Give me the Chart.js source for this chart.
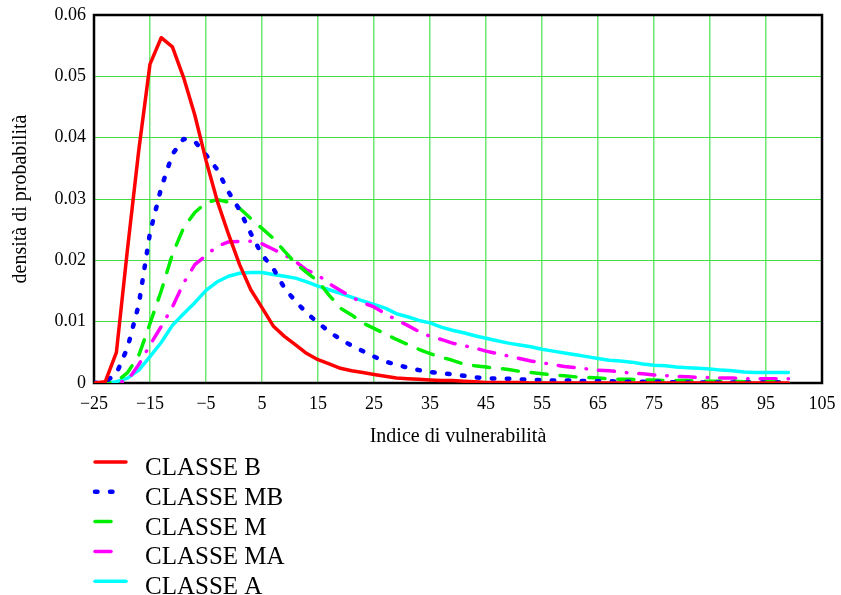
<!DOCTYPE html>
<html>
<head>
<meta charset="utf-8">
<script src="https://cdn.jsdelivr.net/npm/chart.js@4.4.1/dist/chart.umd.min.js"></script>
<style>
  html, body { margin: 0; padding: 0; background: #fff; }
  #wrap { width: 841px; height: 595px; }
</style>
</head>
<body>
<div id="wrap"><canvas id="grafica"></canvas></div>
<script>
// valori dell'indice (asse x)
const indice = [-25,-23,-21,-19,-17,-15,-13,-11,-9,-7,
  -5,-3,-1,1,3,5,7,9,11,13,
  15,17,19,21,23,25,27,29,31,33,
  35,37,39,41,43,45,47,49,51,53,
  55,57,59,61,63,65,67,69,71,73,
  75,77,79,81,83,85,87,89,91,93,
  95,97,99];

const classeB = [0,0.0002,0.005,0.022,0.038,0.052,0.0563,0.0548,0.0498,0.0437,
  0.0363,0.0297,0.0243,0.0193,0.0152,0.0123,0.0093,0.0076,0.0062,0.0048,
  0.0038,0.0031,0.0024,0.002,0.0017,0.0014,0.0011,0.0008,0.0007,0.0006,
  0.0005,0.0004,0.0004,0.0003,0.0002,0.0001,0.0001,0.0001,0.0001,0,
  0,0,0,0,0,0,0,0,0,0,
  0,0,0,0,0,0,0,0,0,0,
  0,0,0];

const classeMB = [0,0.0002,0.0015,0.0058,0.0128,0.0245,0.0318,0.0373,0.0398,0.0394,
  0.0372,0.0348,0.0312,0.0282,0.0244,0.0209,0.0187,0.0155,0.0133,0.0114,
  0.0098,0.0084,0.0071,0.0061,0.0052,0.0043,0.0035,0.003,0.0025,0.0021,
  0.0018,0.0016,0.0014,0.0012,0.0009,0.0008,0.0007,0.0007,0.0006,0.0005,
  0.0005,0.0004,0.0004,0.0004,0.0003,0.0003,0.0003,0.0002,0.0002,0.0002,
  0.0002,0.0002,0.0001,0.0001,0.0001,0.0001,0.0001,0.0001,0.0001,0.0001,
  0.0001,0.0001,0.0001];

const classeM = [0,0,0.0002,0.0017,0.0045,0.0097,0.015,0.021,0.0253,0.0278,
  0.0294,0.0299,0.0295,0.0285,0.0268,0.0252,0.0236,0.0215,0.0195,0.018,
  0.0166,0.0143,0.0122,0.0111,0.0098,0.0089,0.008,0.0071,0.0063,0.0055,
  0.0048,0.0042,0.0037,0.0031,0.0028,0.0026,0.0024,0.0022,0.0019,0.0017,
  0.0015,0.0013,0.0012,0.001,0.0009,0.0008,0.0007,0.0006,0.0006,0.0005,
  0.0005,0.0004,0.0004,0.0004,0.0003,0.0003,0.0003,0.0003,0.0002,0.0002,
  0.0002,0.0002,0.0002];

const classeMA = [0,0,0,0.0004,0.003,0.0062,0.0092,0.0124,0.0163,0.0193,
  0.0208,0.0223,0.023,0.0231,0.0231,0.0227,0.0218,0.0209,0.0198,0.0184,
  0.0176,0.0162,0.0151,0.014,0.0131,0.0124,0.0113,0.0103,0.0094,0.0084,
  0.0076,0.0071,0.0065,0.0061,0.0057,0.0052,0.0048,0.0044,0.004,0.0036,
  0.0033,0.003,0.0027,0.0025,0.0023,0.0021,0.002,0.0018,0.0016,0.0015,
  0.0013,0.0012,0.0011,0.001,0.0009,0.0009,0.0008,0.0008,0.0007,0.0007,
  0.0007,0.0007,0.0007];

const classeA = [0,0,0.0002,0.0008,0.0021,0.0043,0.0066,0.0094,0.0113,0.0131,
  0.0151,0.0165,0.0174,0.0179,0.018,0.018,0.0177,0.0174,0.0171,0.0165,
  0.0158,0.0152,0.0146,0.014,0.0134,0.0128,0.0122,0.0113,0.0108,0.0102,
  0.0098,0.0091,0.0086,0.0082,0.0077,0.0073,0.0069,0.0065,0.0062,0.0059,
  0.0055,0.0052,0.0049,0.0046,0.0043,0.004,0.0037,0.0036,0.0034,0.0031,
  0.0029,0.0028,0.0026,0.0025,0.0024,0.0023,0.0021,0.002,0.0018,0.0017,
  0.0017,0.0017,0.0017];

const etichetteClassi = ["CLASSE B", "CLASSE MB", "CLASSE M", "CLASSE MA", "CLASSE A"];
const tickX = [-25,-15,-5,5,15,25,35,45,55,65,75,85,95,105];
const tickY = [0,0.01,0.02,0.03,0.04,0.05,0.06];

const serif = "'Liberation Serif', 'Times New Roman', serif";

const punti = (serie) => serie.map((v, i) => ({x: indice[i], y: v}));

// stili delle curve
const stili = [
  {color: "#ff0000", dash: [], width: 3.5},
  {color: "#0000ff", dash: [2.5, 12.5], width: 4.5},
  {color: "#00ee00", dash: [16, 13], width: 3.5},
  {color: "#ff00ff", dash: [16, 12, 0.5, 12], width: 3.5},
  {color: "#00ffff", dash: [], width: 3.5}
];

const serieDati = [classeB, classeMB, classeM, classeMA, classeA];

const datasets = serieDati.map((s, i) => ({
  label: etichetteClassi[i],
  data: punti(s),
  borderColor: stili[i].color,
  borderWidth: stili[i].width,
  borderDash: stili[i].dash,
  borderCapStyle: "round",
  borderJoinStyle: "round",
  pointRadius: 0,
  tension: 0,
  fill: false
}));

// cornice nera attorno all'area del grafico
const cornice = {
  id: "cornice",
  beforeDatasetsDraw(chart) {
    const {ctx, chartArea: a} = chart;
    ctx.save();
    ctx.strokeStyle = "#000";
    ctx.lineWidth = 2.5;
    ctx.strokeRect(a.left, a.top, a.right - a.left, a.bottom - a.top);
    ctx.restore();
  }
};

// legenda sotto il grafico, una voce per riga
const legendaSotto = {
  id: "legendaSotto",
  afterDraw(chart) {
    const ctx = chart.ctx;
    ctx.save();
    chart.data.datasets.forEach((ds, i) => {
      const y = 462 + i * 29.8;
      ctx.beginPath();
      ctx.strokeStyle = ds.borderColor;
      ctx.lineWidth = ds.borderWidth;
      ctx.lineCap = "round";
      ctx.setLineDash(ds.borderDash);
      const fine = (i === 0 || i === 4) ? 126 : 114;
      ctx.moveTo(95, y);
      ctx.lineTo(fine, y);
      ctx.stroke();
      ctx.setLineDash([]);
      ctx.fillStyle = "#000";
      ctx.font = "25px " + serif;
      ctx.textBaseline = "alphabetic";
      ctx.fillText(ds.label, 145, y + 13);
    });
    ctx.restore();
  }
};

new Chart(document.getElementById("grafica"), {
  type: "line",
  data: {datasets: datasets},
  options: {
    responsive: true,
    maintainAspectRatio: false,
    animation: false,
    layout: {padding: {left: 0, right: 19, top: 15, bottom: 145}},
    plugins: {legend: {display: false}, tooltip: {enabled: false}},
    scales: {
      x: {
        type: "linear",
        min: -25,
        max: 105,
        afterBuildTicks: (scale) => { scale.ticks = tickX.map(v => ({value: v})); },
        afterFit: (scale) => {
          scale.height = 67;
          scale.paddingLeft = 0;
          scale.paddingRight = 0;
        },
        grid: {color: "#6fe86f", lineWidth: 1.5, drawTicks: false},
        border: {display: false},
        ticks: {
          padding: 10,
          color: "#000",
          font: {family: serif, size: 18},
          maxRotation: 0,
          autoSkip: false,
          callback: (v) => String(v).replace("-", "\u2212")
        },
        title: {
          display: true,
          text: "Indice di vulnerabilità",
          color: "#000",
          font: {family: serif, size: 20},
          padding: {top: 0, bottom: 1}
        }
      },
      y: {
        min: 0,
        max: 0.06,
        afterBuildTicks: (scale) => { scale.ticks = tickY.map(v => ({value: v})); },
        afterFit: (scale) => {
          scale.width = 94;
          scale.paddingTop = 0;
          scale.paddingBottom = 0;
        },
        grid: {color: "#44dd44", lineWidth: 1, drawTicks: false},
        border: {display: false},
        ticks: {
          padding: 8,
          color: "#000",
          font: {family: serif, size: 18},
          callback: (v) => String(v)
        },
        title: {
          display: true,
          text: "densità di probabilità",
          color: "#000",
          font: {family: serif, size: 20},
          padding: {top: 9, bottom: 0}
        }
      }
    }
  },
  plugins: [cornice, legendaSotto]
});
</script>
</body>
</html>
